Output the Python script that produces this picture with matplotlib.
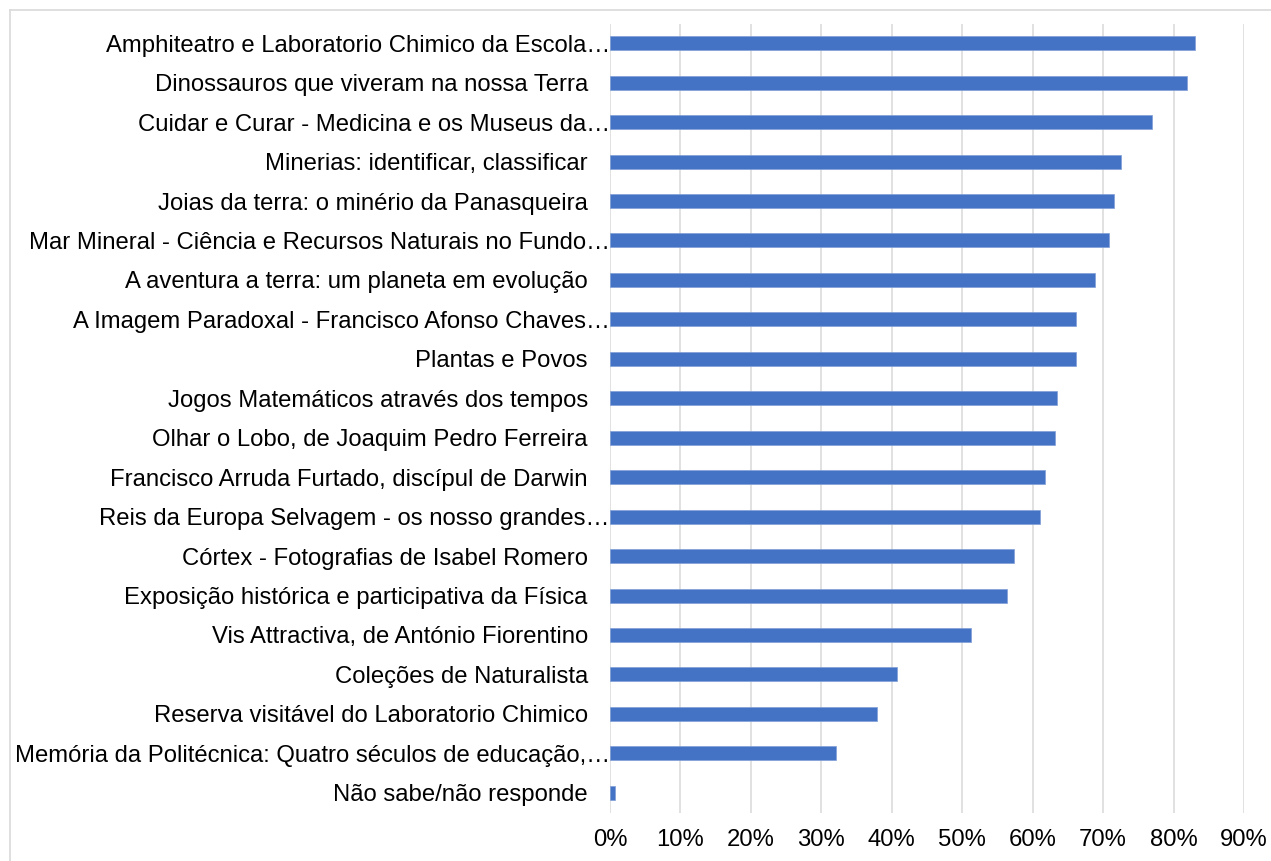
import matplotlib.pyplot as plt
import matplotlib.ticker as mtick
from matplotlib.transforms import ScaledTranslation
from matplotlib.lines import Line2D

# exhibitions (top to bottom) and share of respondents
exhibitions = [
    "Amphiteatro e Laboratorio Chimico da Escola…",
    "Dinossauros que viveram na nossa Terra",
    "Cuidar e Curar - Medicina e os Museus da…",
    "Minerias: identificar, classificar",
    "Joias da terra: o minério da Panasqueira",
    "Mar Mineral - Ciência e Recursos Naturais no Fundo…",
    "A aventura a terra: um planeta em evolução",
    "A Imagem Paradoxal - Francisco Afonso Chaves…",
    "Plantas e Povos",
    "Jogos Matemáticos através dos tempos",
    "Olhar o Lobo, de Joaquim Pedro Ferreira",
    "Francisco Arruda Furtado, discípul de Darwin",
    "Reis da Europa Selvagem - os nosso grandes…",
    "Córtex - Fotografias de Isabel Romero",
    "Exposição histórica e participativa da Física",
    "Vis Attractiva, de António Fiorentino",
    "Coleções de Naturalista",
    "Reserva visitável do Laboratorio Chimico",
    "Memória da Politécnica: Quatro séculos de educação,…",
    "Não sabe/não responde",
]
percent = [83.0, 81.9, 76.9, 72.5, 71.5, 70.8, 68.9, 66.2, 66.2, 63.4,
           63.1, 61.8, 61.1, 57.4, 56.3, 51.2, 40.7, 37.9, 32.1, 0.7]
xticks = [0, 10, 20, 30, 40, 50, 60, 70, 80, 90]

plt.rcParams['font.family'] = ['Liberation Sans', 'DejaVu Sans']

W, H = 1271, 861
fig = plt.figure(figsize=(W / 100, H / 100), dpi=100)
ax = fig.add_axes([610 / W, 1 - 812.5 / H, (1244 - 610) / W, (812.5 - 23.5) / H])

pos = list(range(len(exhibitions)))
ax.barh(pos, percent, height=0.355, color='#4472C4',
        edgecolor='#7F9ED6', linewidth=0.5, zorder=3)

ax.set_ylim(len(exhibitions) - 0.5, -0.5)
ax.set_xlim(0, 90)
ax.set_xticks(xticks)
ax.xaxis.set_major_formatter(mtick.PercentFormatter(decimals=0))
ax.set_yticks(pos)
ax.set_yticklabels(exhibitions)

ax.grid(axis='x', color='#D9D9D9', linewidth=1.1, zorder=0)
for s in ax.spines.values():
    s.set_visible(False)
ax.tick_params(axis='both', length=0, labelsize=17.2, labelcolor='black')
ax.tick_params(axis='y', pad=16)
ax.tick_params(axis='x', pad=12)

# cut labels run up to the axis line
shift = ScaledTranslation(22 / 100, 0, fig.dpi_scale_trans)
for lbl in ax.get_yticklabels():
    if lbl.get_text().endswith('…'):
        lbl.set_transform(lbl.get_transform() + shift)

# chart frame
fig.add_artist(Line2D([10 / W, 10 / W], [0, 1 - 10 / H], transform=fig.transFigure,
                      color='#D9D9D9', linewidth=1.2))
fig.add_artist(Line2D([10 / W, 1], [1 - 10 / H, 1 - 10 / H], transform=fig.transFigure,
                      color='#D9D9D9', linewidth=1.2))

fig.savefig('out.png', dpi=100, facecolor='white')
